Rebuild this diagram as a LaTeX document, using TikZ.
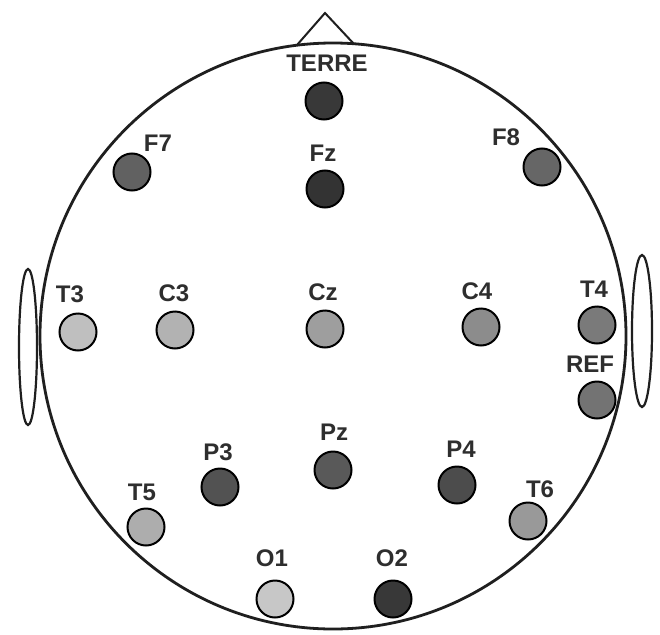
\documentclass[tikz,border=0pt]{standalone}
\usepackage{fontspec}
\setmainfont{Liberation Sans}
\begin{document}
\begin{tikzpicture}[x=1pt,y=-1pt,
  elec/.style={circle,draw=black,line width=2pt,minimum size=37pt,inner sep=0pt},
  lbl/.style={font=\fontsize{24}{27}\selectfont\bfseries,text=black!82,inner sep=0pt},
  outline/.style={line width=2.8pt,draw=black!88}]
\useasboundingbox (0,0) rectangle (660,634);
\fill[white] (0,0) rectangle (660,634);
% head
\coordinate (hc) at (333,336);
\draw[outline] (hc) circle (293);
% nose
\coordinate (nL) at (297,45);
\coordinate (nT) at (325,13);
\coordinate (nR) at (354,44);
\draw[outline,line width=2pt,line join=miter] (nL) -- (nT) -- (nR);
% ears
\draw[line width=2.2pt,draw=black!88] (28,347) ellipse (9 and 78);
\draw[line width=2.2pt,draw=black!88] (642,331) ellipse (10 and 76);
% electrodes
\node[elec,fill=black!78] (terre) at (324,101) {};
\node[elec,fill=black!62] (f7) at (132,172) {};
\node[elec,fill=black!80] (fz) at (325,189) {};
\node[elec,fill=black!60] (f8) at (542,167) {};
\node[elec,fill=black!25] (t3) at (78,332) {};
\node[elec,fill=black!30] (c3) at (175,330) {};
\node[elec,fill=black!38] (cz) at (325,329) {};
\node[elec,fill=black!45] (c4) at (481,327) {};
\node[elec,fill=black!52] (t4) at (597,325) {};
\node[elec,fill=black!55] (ref) at (597,400) {};
\node[elec,fill=black!65] (pz) at (333,470) {};
\node[elec,fill=black!68] (p3) at (220,487) {};
\node[elec,fill=black!70] (p4) at (457,485) {};
\node[elec,fill=black!32] (t5) at (146,527) {};
\node[elec,fill=black!40] (t6) at (528,521) {};
\node[elec,fill=black!22] (o1) at (275,599) {};
\node[elec,fill=black!78] (o2) at (393,599) {};
% labels
\node[lbl] (lterre) at (327,63) {TERRE};
\node[lbl] (lf7) at (158,143) {F7};
\node[lbl] (lfz) at (323,153) {Fz};
\node[lbl] (lf8) at (506,137) {F8};
\node[lbl] (lt3) at (70,294) {T3};
\node[lbl] (lc3) at (174,293) {C3};
\node[lbl] (lcz) at (323,292) {Cz};
\node[lbl] (lc4) at (477,291) {C4};
\node[lbl] (lt4) at (594,289) {T4};
\node[lbl] (lref) at (590,364) {REF};
\node[lbl] (lpz) at (334,432) {Pz};
\node[lbl] (lp3) at (218,452) {P3};
\node[lbl] (lp4) at (461,449) {P4};
\node[lbl] (lt5) at (142,492) {T5};
\node[lbl] (lt6) at (540,489) {T6};
\node[lbl] (lo1) at (272,558) {O1};
\node[lbl] (lo2) at (392,558) {O2};
\end{tikzpicture}
\end{document}
